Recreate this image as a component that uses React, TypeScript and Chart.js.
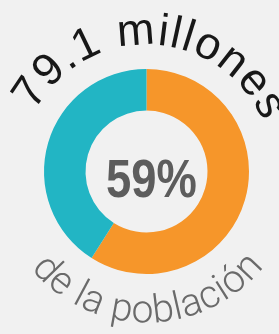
import React, { useEffect, useRef } from "react";
import { Chart, registerables } from "chart.js";

Chart.register(...registerables);

const categories = ["Población", "Resto"];
const values = [59, 41];
const colors = ["#F6962A", "#22B5C4"];
const topLabel = "79.1 millones";
const bottomLabel = "de la población";

function drawTopArc(ctx: CanvasRenderingContext2D, text: string, cx: number, cy: number, r: number, centerDeg: number, spacing: number) {
  const chars = Array.from(text);
  const widths = chars.map((c) => ctx.measureText(c).width);
  const total = widths.reduce((a, b) => a + b, 0) + spacing * (chars.length - 1);
  let th = (centerDeg * Math.PI) / 180 - total / 2 / r;
  ctx.textAlign = "center";
  ctx.textBaseline = "alphabetic";
  chars.forEach((c, i) => {
    const w = widths[i];
    const tc = th + w / 2 / r;
    ctx.save();
    ctx.translate(cx, cy);
    ctx.rotate(tc);
    ctx.fillText(c, 0, -r);
    ctx.restore();
    th += (w + spacing) / r;
  });
}

function drawBottomArc(ctx: CanvasRenderingContext2D, text: string, cx: number, cy: number, r: number, centerDeg: number, spacing: number) {
  const chars = Array.from(text);
  const widths = chars.map((c) => ctx.measureText(c).width);
  const total = widths.reduce((a, b) => a + b, 0) + spacing * (chars.length - 1);
  let ph = (centerDeg * Math.PI) / 180 + total / 2 / r;
  ctx.textAlign = "center";
  ctx.textBaseline = "alphabetic";
  chars.forEach((c, i) => {
    const w = widths[i];
    const pc = ph - w / 2 / r;
    ctx.save();
    ctx.translate(cx, cy);
    ctx.rotate(pc - Math.PI);
    ctx.fillText(c, 0, r);
    ctx.restore();
    ph -= (w + spacing) / r;
  });
}

const labelsPlugin = {
  id: "arcLabels",
  afterDraw(chart: any) {
    const ctx: CanvasRenderingContext2D = chart.ctx;
    const meta = chart.getDatasetMeta(0);
    const arc = meta.data[0];
    const cx = arc.x;
    const cy = arc.y;
    ctx.save();
    ctx.fillStyle = "#181818";
    ctx.font = "45px 'Liberation Sans', Arial, sans-serif";
    drawTopArc(ctx, topLabel, cx, cy, 127, 2.5, 1.6);
    ctx.fillStyle = "#6a6a6a";
    ctx.font = "300 39px Roboto, 'Liberation Sans', sans-serif";
    drawBottomArc(ctx, bottomLabel, cx, cy, 151, 179.5, 0.6);
    // center text
    ctx.fillStyle = "#5d5d5d";
    ctx.font = "bold 54px 'Liberation Sans', Arial, sans-serif";
    ctx.textAlign = "center";
    ctx.textBaseline = "alphabetic";
    ctx.translate(cx + 5, cy + 25.5);
    ctx.scale(0.84, 1);
    ctx.fillText(values[0] + "%", 0, 0);
    ctx.restore();
  },
};

export default function App() {
  const ref = useRef<HTMLCanvasElement | null>(null);
  useEffect(() => {
    document.body.style.margin = "0";
    document.body.style.background = "#f1f1f1";
    const canvas = ref.current!;
    const chart = new Chart(canvas, {
      type: "doughnut",
      data: {
        labels: categories,
        datasets: [
          {
            data: values,
            backgroundColor: colors,
            borderWidth: 0,
          },
        ],
      },
      options: {
        animation: false,
        responsive: false,
        devicePixelRatio: 1,
        cutout: "59.5%",
        layout: { padding: { left: 44, right: 30, top: 69, bottom: 60 } },
        plugins: { legend: { display: false }, tooltip: { enabled: false } },
      },
      plugins: [labelsPlugin],
    });
    return () => chart.destroy();
  }, []);
  return (
    <canvas
      ref={ref}
      width={279}
      height={334}
      style={{ display: "block", width: 279, height: 334, background: "#f1f1f1" }}
    />
  );
}
